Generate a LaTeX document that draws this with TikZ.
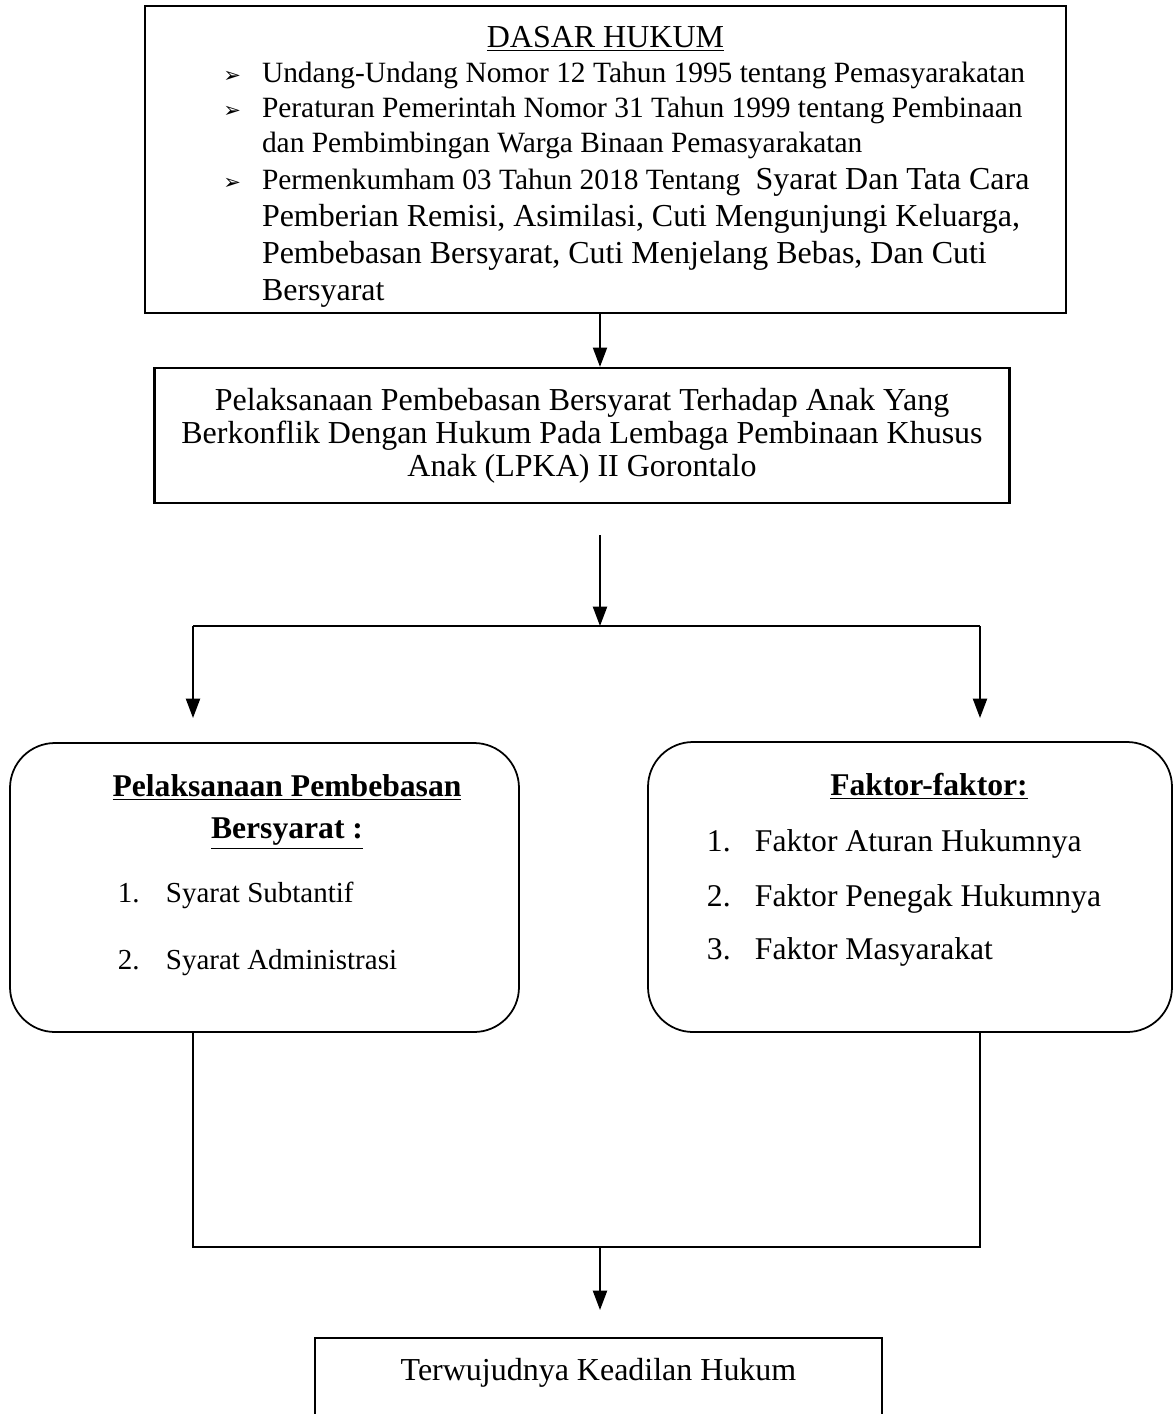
\documentclass[tikz,border=0pt]{standalone}
\usepackage{fontspec}
\setmainfont{Liberation Serif}
\newfontfamily\panahfont{DejaVu Sans}
\usetikzlibrary{positioning,arrows.meta}

\newcommand{\kecil}{\fontsize{16.75}{20}\selectfont}
\newcommand{\besar}{\fontsize{18.2}{21}\selectfont}
\newcommand{\butirhukum}[1]{\par\hangindent=2.34cm\hangafter=0\noindent
  \llap{{\panahfont\fontsize{12}{13}\selectfont ➢}\hspace{0.42cm}}#1\par}

\begin{document}
\begin{tikzpicture}[>={Triangle[length=11pt,width=8pt]}, line width=1.1pt,
  kotak/.style={draw, line width=1.5pt, inner sep=0pt},
  bulat/.style={draw, line width=1pt, rounded corners=0.9cm, inner sep=0pt},
  judul/.style={font=\fontsize{18}{23.8}\selectfont\bfseries, align=center, inner sep=0pt},
  butir/.style={anchor=west, inner sep=0pt}]
  \useasboundingbox (0,0) rectangle (23.5,-28.28);

  % dasar hukum
  \node[kotak, minimum width=18.42cm, minimum height=6.14cm] (hukum) at (12.11,-3.19) {};
  \node[below=0.41cm of hukum.north, inner sep=0pt, text width=18.42cm, align=flush left] (hukum-isi) {%
    {\centering\besar\underline{DASAR HUKUM}\par}
    \kecil
    \butirhukum{Undang-Undang Nomor 12 Tahun 1995 tentang Pemasyarakatan}
    \butirhukum{Peraturan Pemerintah Nomor 31 Tahun 1999 tentang Pembinaan\newline dan Pembimbingan Warga Binaan Pemasyarakatan}
    \butirhukum{Permenkumham 03 Tahun 2018 Tentang {\besar\ Syarat Dan Tata Cara\newline Pemberian Remisi, Asimilasi, Cuti Mengunjungi Keluarga,\newline Pembebasan Bersyarat, Cuti Menjelang Bebas, Dan Cuti\newline Bersyarat\par}}};

  \node[kotak, line width=1.3pt, minimum width=17.1cm, minimum height=2.7cm, text width=17.1cm, align=flush center,
        font=\fontsize{18.2}{18.7}\selectfont] (pelaksanaan) at (11.64,-8.71)
    {Pelaksanaan Pembebasan Bersyarat Terhadap Anak Yang\\Berkonflik Dengan Hukum Pada Lembaga Pembinaan Khusus\\Anak (LPKA) II Gorontalo};

  % percabangan
  \coordinate (pangkal) at (12.0,-10.7);
  \coordinate (cabang) at (12.0,-12.52);
  \coordinate (cabangkiri) at (3.86,-12.52);
  \coordinate (cabangkanan) at (19.6,-12.52);
  \coordinate (ujung) at (0,-14.36);
  \draw[->] (hukum.south -| pangkal) -- (pangkal |- pelaksanaan.north);
  \draw[->] (pangkal) -- (cabang);
  \draw (cabangkiri) -- (cabangkanan);
  \draw[->] (cabangkiri) -- (cabangkiri |- ujung);
  \draw[->] (cabangkanan) -- (cabangkanan |- ujung);

  % dua kotak bulat
  \node[bulat, minimum width=10.18cm, minimum height=5.78cm] (syarat) at (5.29,-17.75) {};
  \node[bulat, minimum width=10.48cm, minimum height=5.8cm] (faktor) at (18.2,-17.74) {};

  \node[judul] (syarat-judul) at (5.74,-16.24) {\underline{Pelaksanaan Pembebasan}\\\underline{Bersyarat :}};
  \node[butir, font=\fontsize{16.5}{19}\selectfont] (syarat-1) at (2.34,-17.9) {\makebox[0.96cm][l]{1.}Syarat Subtantif};
  \node[butir, font=\fontsize{16.5}{19}\selectfont] (syarat-2) at (2.34,-19.26) {\makebox[0.96cm][l]{2.}Syarat Administrasi};

  \node[judul] (faktor-judul) at (18.58,-15.72) {\underline{Faktor-faktor:}};
  \node[butir, font=\fontsize{18}{20}\selectfont] (faktor-1) at (14.12,-16.88) {\makebox[0.96cm][l]{1.}Faktor Aturan Hukumnya};
  \node[butir, font=\fontsize{18}{20}\selectfont] (faktor-2) at (14.12,-17.98) {\makebox[0.96cm][l]{2.}Faktor Penegak Hukumnya};
  \node[butir, font=\fontsize{18}{20}\selectfont] (faktor-3) at (14.12,-19.04) {\makebox[0.96cm][l]{3.}Faktor Masyarakat};

  % penggabungan
  \coordinate (gabung) at (12.0,-24.94);
  \coordinate (ujungbawah) at (12.0,-26.2);
  \draw[line width=0.9pt] (syarat.south -| cabangkiri) -- (cabangkiri |- gabung) -- (cabangkanan |- gabung) -- (faktor.south -| cabangkanan);
  \draw[->] (gabung) -- (ujungbawah);

  \node[kotak, line width=1.2pt, minimum width=11.34cm, minimum height=4cm, anchor=north] (hasil) at (11.97,-26.74) {};
  \node[below=0.4cm of hasil.north, inner sep=0pt, font=\fontsize{18.2}{20}\selectfont] (hasil-teks) {Terwujudnya Keadilan Hukum};
\end{tikzpicture}
\end{document}
